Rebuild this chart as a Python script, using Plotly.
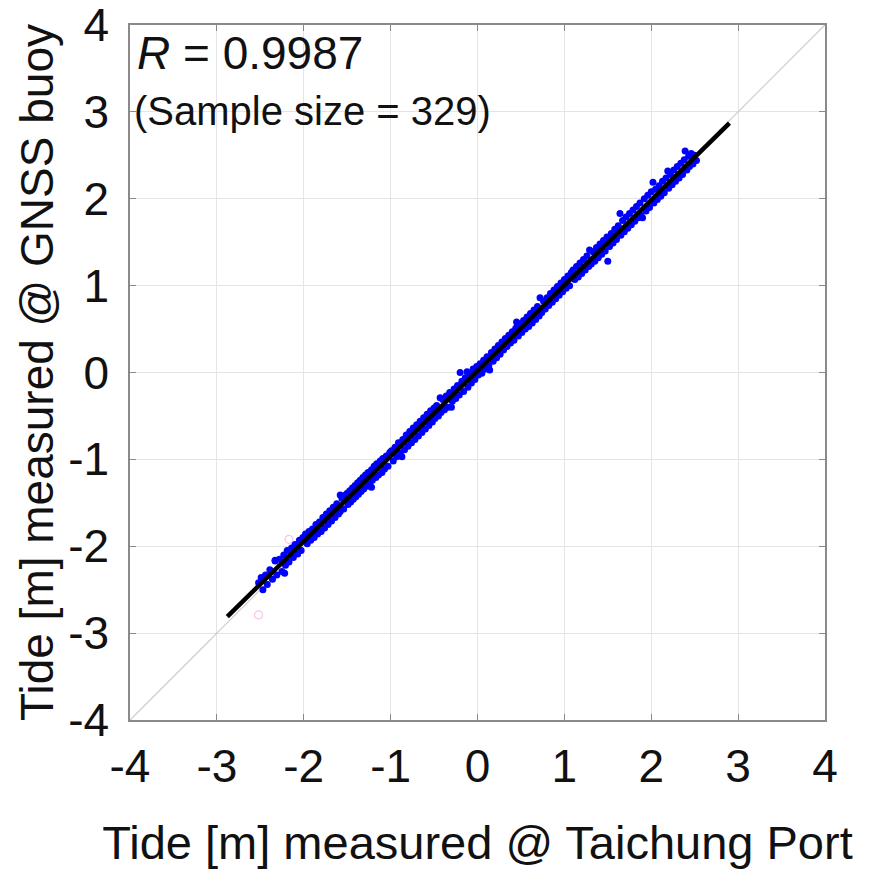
import plotly.graph_objects as go

port_x = [
    -2.52, -2.49, -2.47, -2.44, -2.42, -2.39, -2.36, -2.33, -2.33, -2.31, -2.28, -2.25, -2.23, -2.22, -2.21,
    -2.19, -2.17, -2.14, -2.12, -2.10, -2.07, -2.05, -2.03, -2.01,
    -1.98, -1.96, -1.94, -1.92, -1.90, -1.88, -1.86, -1.84, -1.82, -1.80, -1.78, -1.76, -1.74, -1.72,
    -1.70, -1.68, -1.66, -1.64, -1.62, -1.60, -1.58, -1.58, -1.56, -1.54, -1.52,
    -1.50, -1.49, -1.47, -1.46, -1.44, -1.43, -1.41, -1.40, -1.38, -1.37, -1.35, -1.34, -1.32, -1.31,
    -1.29, -1.27, -1.26, -1.24, -1.22, -1.22, -1.21, -1.19, -1.17, -1.16, -1.14, -1.12, -1.10, -1.09,
    -1.07, -1.05, -1.03, -1.01,
    -0.99, -0.97, -0.95, -0.93, -0.91, -0.89, -0.87, -0.86, -0.84, -0.82, -0.80, -0.78, -0.76, -0.74,
    -0.72, -0.70, -0.68, -0.66, -0.64, -0.62, -0.60, -0.58, -0.56, -0.54, -0.52, -0.50,
    -0.49, -0.47, -0.45, -0.43, -0.42, -0.40, -0.38, -0.36, -0.34, -0.32, -0.30, -0.29, -0.27, -0.25,
    -0.23, -0.21, -0.20, -0.18, -0.16, -0.14, -0.12, -0.11, -0.09, -0.07, -0.05, -0.03, -0.01,
    0.01, 0.03, 0.05, 0.07, 0.09, 0.11, 0.13, 0.14, 0.16, 0.18, 0.20, 0.22, 0.24, 0.26, 0.28, 0.30,
    0.32, 0.34, 0.36, 0.38, 0.40, 0.42, 0.44, 0.45, 0.47, 0.49,
    0.51, 0.53, 0.55, 0.57, 0.59, 0.61, 0.63, 0.65, 0.67, 0.69, 0.71, 0.72, 0.74, 0.76, 0.78, 0.80,
    0.82, 0.84, 0.86, 0.88, 0.90, 0.92, 0.94, 0.96, 0.98, 1.00,
    1.02, 1.04, 1.06, 1.08, 1.10, 1.12, 1.14, 1.16, 1.18, 1.20, 1.22, 1.24, 1.26, 1.28, 1.29, 1.31,
    1.33, 1.35, 1.37, 1.39, 1.41, 1.43, 1.45, 1.47, 1.49, 1.50,
    1.52, 1.54, 1.56, 1.58, 1.60, 1.62, 1.64, 1.65, 1.67, 1.69, 1.71, 1.73, 1.75, 1.77, 1.79, 1.81,
    1.83, 1.85, 1.87, 1.88, 1.90, 1.92, 1.94, 1.96, 1.98, 2.00,
    2.02, 2.03, 2.05, 2.07, 2.09, 2.11, 2.13, 2.15, 2.17, 2.19, 2.20, 2.22, 2.24, 2.26, 2.28, 2.30,
    2.32, 2.34, 2.36, 2.38, 2.39, 2.41, 2.43, 2.44, 2.46, 2.48, 2.50, 2.52,
]
buoy_y = [
    -2.42, -2.36, -2.50, -2.33, -2.44, -2.27, -2.38, -2.17, -2.16, -2.33, -2.15, -2.29, -2.10, -2.31, -2.22,
    -2.05, -2.18, -2.02, -2.13, -1.98, -2.09, -1.93, -2.05, -1.90,
    -1.86, -1.97, -1.83, -1.93, -1.80, -1.90, -1.75, -1.86, -1.72, -1.83, -1.67, -1.79, -1.63, -1.75,
    -1.59, -1.71, -1.55, -1.67, -1.51, -1.63, -1.41, -1.60, -1.45, -1.57, -1.41,
    -1.39, -1.52, -1.36, -1.49, -1.33, -1.46, -1.30, -1.43, -1.27, -1.40, -1.24, -1.37, -1.21, -1.34,
    -1.18, -1.31, -1.15, -1.28, -1.12, -1.32, -1.24, -1.08, -1.21, -1.05, -1.18, -1.02, -1.15, -0.99,
    -1.11, -0.96, -1.08, -0.92,
    -0.90, -1.02, -0.86, -0.97, -0.81, -0.93, -0.97, -0.77, -0.89, -0.72, -0.85, -0.68, -0.81, -0.64,
    -0.77, -0.60, -0.73, -0.56, -0.69, -0.52, -0.65, -0.48, -0.61, -0.44, -0.57, -0.41,
    -0.53, -0.38, -0.50, -0.29, -0.46, -0.31, -0.43, -0.27, -0.40, -0.23, -0.40, -0.33, -0.19, -0.30,
    -0.15, -0.26, 0.00, -0.10, -0.22, -0.06, 0.01, -0.17, -0.01, -0.12, 0.04, -0.08, 0.07,
    -0.03, 0.10, -0.01, 0.14, 0.04, 0.18, 0.08, 0.03, 0.23, 0.13, 0.27, 0.17, 0.31, 0.21, 0.35, 0.26,
    0.39, 0.30, 0.43, 0.34, 0.47, 0.37, 0.51, 0.58, 0.42, 0.56,
    0.46, 0.60, 0.50, 0.64, 0.53, 0.68, 0.57, 0.72, 0.61, 0.76, 0.65, 0.86, 0.69, 0.82, 0.73, 0.86,
    0.77, 0.91, 0.81, 0.95, 0.85, 0.99, 0.89, 1.03, 0.93, 1.07,
    0.97, 1.11, 1.00, 1.15, 1.18, 1.07, 1.22, 1.10, 1.26, 1.14, 1.30, 1.18, 1.34, 1.22, 1.41, 1.25,
    1.39, 1.28, 1.44, 1.32, 1.48, 1.36, 1.52, 1.40, 1.56, 1.28,
    1.45, 1.60, 1.49, 1.65, 1.53, 1.69, 1.83, 1.58, 1.75, 1.62, 1.79, 1.66, 1.83, 1.70, 1.87, 1.74,
    1.91, 1.78, 1.95, 1.81, 1.78, 2.00, 1.86, 2.04, 1.90, 2.08,
    2.19, 1.95, 2.11, 1.99, 2.15, 2.03, 2.20, 2.07, 2.24, 2.32, 2.12, 2.28, 2.16, 2.33, 2.20, 2.37,
    2.24, 2.41, 2.28, 2.45, 2.55, 2.33, 2.49, 2.37, 2.52, 2.40, 2.50, 2.44,
]

# Excluded samples (faint open circles)
excl_x = [-2.17, -2.52]
excl_y = [-1.92, -2.79]

# Regression line end points
fit_x = [-2.88, 2.90]
fit_y = [-2.81, 2.87]

# 1:1 reference line
ref_x = [-4, 4]
ref_y = [-4, 4]

tick_vals = [-4, -3, -2, -1, 0, 1, 2, 3, 4]
tick_text = ["-4", "-3", "-2", "-1", "0", "1", "2", "3", "4"]

R_text = "<i>R</i> = 0.9987"
n_text = "(Sample size = 329)"
x_title = "Tide [m] measured @ Taichung Port"
y_title = "Tide [m] measured @ GNSS buoy"

FONT = "Liberation Sans, Arial, sans-serif"

fig = go.Figure()
fig.add_trace(go.Scatter(x=ref_x, y=ref_y, mode="lines",
                         line=dict(color="#c8c8c8", width=1.2), hoverinfo="skip"))
fig.add_trace(go.Scatter(x=excl_x, y=excl_y, mode="markers",
                         marker=dict(symbol="circle-open", size=8, color="#f7c6e6",
                                     line=dict(width=1.2, color="#f7c6e6"))))
fig.add_trace(go.Scatter(x=port_x, y=buoy_y, mode="markers",
                         marker=dict(size=7, color="#0000ff", line=dict(width=0))))
fig.add_trace(go.Scatter(x=fit_x, y=fit_y, mode="lines",
                         line=dict(color="#000000", width=4.5)))

axis_common = dict(
    range=[-4, 4], tickmode="array", tickvals=tick_vals, ticktext=tick_text,
    showgrid=True, gridcolor="#e4e4e4", gridwidth=1,
    zeroline=False, showline=True, linecolor="#8a8a8a", linewidth=1.5, mirror="ticks",
    ticks="inside", ticklen=6, tickcolor="#8a8a8a",
    tickfont=dict(family=FONT, size=46, color="#111111"),
    ticklabeloverflow="allow", automargin=False,
)

fig.update_layout(
    width=873, height=869,
    margin=dict(l=130, r=48, t=25, b=149),
    paper_bgcolor="white", plot_bgcolor="white",
    showlegend=False,
    font=dict(family=FONT, color="#111111"),
    xaxis=dict(**axis_common, ticklabelstandoff=5,
               title=dict(text=x_title, font=dict(family=FONT, size=47), standoff=36)),
    yaxis=dict(**axis_common, ticklabelstandoff=10,
               title=dict(text=y_title, font=dict(family=FONT, size=46), standoff=0)),
    annotations=[
        dict(text=R_text, xref="paper", yref="paper", x=0.007, y=0.96,
             xanchor="left", yanchor="middle", showarrow=False,
             font=dict(family=FONT, size=46, color="#111111")),
        dict(text=n_text, xref="paper", yref="paper", x=0.003, y=0.876,
             xanchor="left", yanchor="middle", showarrow=False,
             font=dict(family=FONT, size=40, color="#111111")),
    ],
)

fig.write_html("out.html")
